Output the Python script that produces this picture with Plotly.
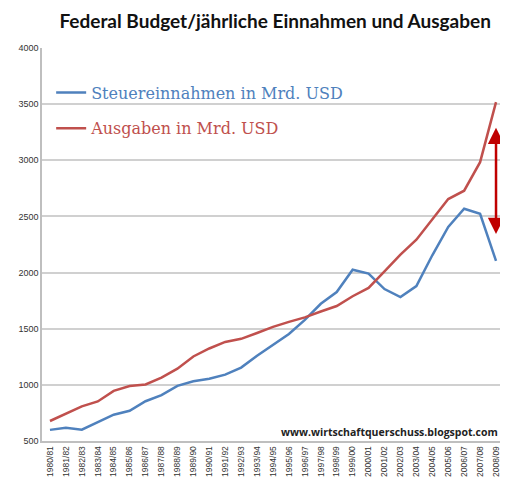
import plotly.graph_objects as go

# fiscal years shown on the x axis
years = ["1980/81", "1981/82", "1982/83", "1983/84", "1984/85", "1985/86", "1986/87",
         "1987/88", "1988/89", "1989/90", "1990/91", "1991/92", "1992/93", "1993/94",
         "1994/95", "1995/96", "1996/97", "1997/98", "1998/99", "1999/00", "2000/01",
         "2001/02", "2002/03", "2003/04", "2004/05", "2005/06", "2006/07", "2007/08",
         "2008/09"]

# tax receipts, bn USD
einnahmen = [599, 618, 601, 666, 734, 769, 854, 909, 991, 1032, 1055, 1091, 1154, 1259,
             1352, 1453, 1579, 1722, 1827, 2025, 1991, 1853, 1782, 1880, 2154, 2407,
             2568, 2524, 2105]

# outlays, bn USD
ausgaben = [678, 746, 808, 852, 946, 990, 1004, 1065, 1144, 1253, 1324, 1382, 1410, 1462,
            1516, 1561, 1601, 1653, 1702, 1789, 1863, 2011, 2160, 2293, 2472, 2655,
            2729, 2983, 3518]

# red double arrow (gap between the two lines)
arrow_top = 3290
arrow_bottom = 2330

blue = "#4F81BD"
red = "#C0504D"

fig = go.Figure()
fig.add_trace(go.Scatter(
    x=years, y=einnahmen, mode="lines", legendgroup="a",
    name="<span style='color:%s'>Steuereinnahmen in Mrd. USD</span>" % blue,
    line=dict(color=blue, width=2.5)))
fig.add_trace(go.Scatter(
    x=years, y=ausgaben, mode="lines", legendgroup="b",
    name="<span style='color:%s'>Ausgaben in Mrd. USD</span>" % red,
    line=dict(color=red, width=2.5)))

# arrow between the lines at the last year
fig.add_annotation(x=years[-1], y=arrow_top, ax=years[-1], ay=arrow_bottom,
                   xref="x", yref="y", axref="x", ayref="y", text="",
                   showarrow=True, arrowhead=2, startarrowhead=2, arrowside="end+start",
                   arrowsize=1.3, arrowwidth=2.5, arrowcolor="#C00000")

fig.add_annotation(text="<b>www.wirtschaftquerschuss.blogspot.com</b>",
                   xref="paper", yref="paper", x=1.0, y=0.0,
                   xanchor="right", yanchor="bottom", showarrow=False,
                   font=dict(family="Open Sans", size=10.5, color="#222222"))

# page body has an 8px margin: keep the figure small enough to avoid scrollbars
fig.update_layout(
    width=492, height=472,
    margin=dict(l=34, r=0, t=40, b=39, autoexpand=False),
    paper_bgcolor="white", plot_bgcolor="white",
    title=dict(text="<b>Federal Budget/jährliche Einnahmen und Ausgaben</b>",
               x=0.543, xanchor="center", y=0.972, yanchor="middle",
               font=dict(family="Lato", size=19, color="#111111")),
    legend=dict(x=0.02, y=0.93, xanchor="left", yanchor="top",
                font=dict(family="DejaVu Serif", size=16),
                traceorder="grouped", tracegroupgap=12,
                bgcolor="rgba(0,0,0,0)", itemwidth=30),
    showlegend=True,
)

fig.update_xaxes(range=[-0.5, 28.25], tickangle=-90, showgrid=False,
                 showline=True, linecolor="#BFBFBF", linewidth=1.5,
                 ticks="", tickfont=dict(family="Liberation Sans", size=8.5, color="#333333"))
fig.update_yaxes(range=[500, 4000], dtick=500, showgrid=True, gridcolor="#D0D0D0",
                 gridwidth=1.5, showline=True, linecolor="#BFBFBF", linewidth=1.5,
                 zeroline=False, ticks="",
                 tickfont=dict(family="Liberation Sans", size=9, color="#333333"))

fig.write_html("out.html")
